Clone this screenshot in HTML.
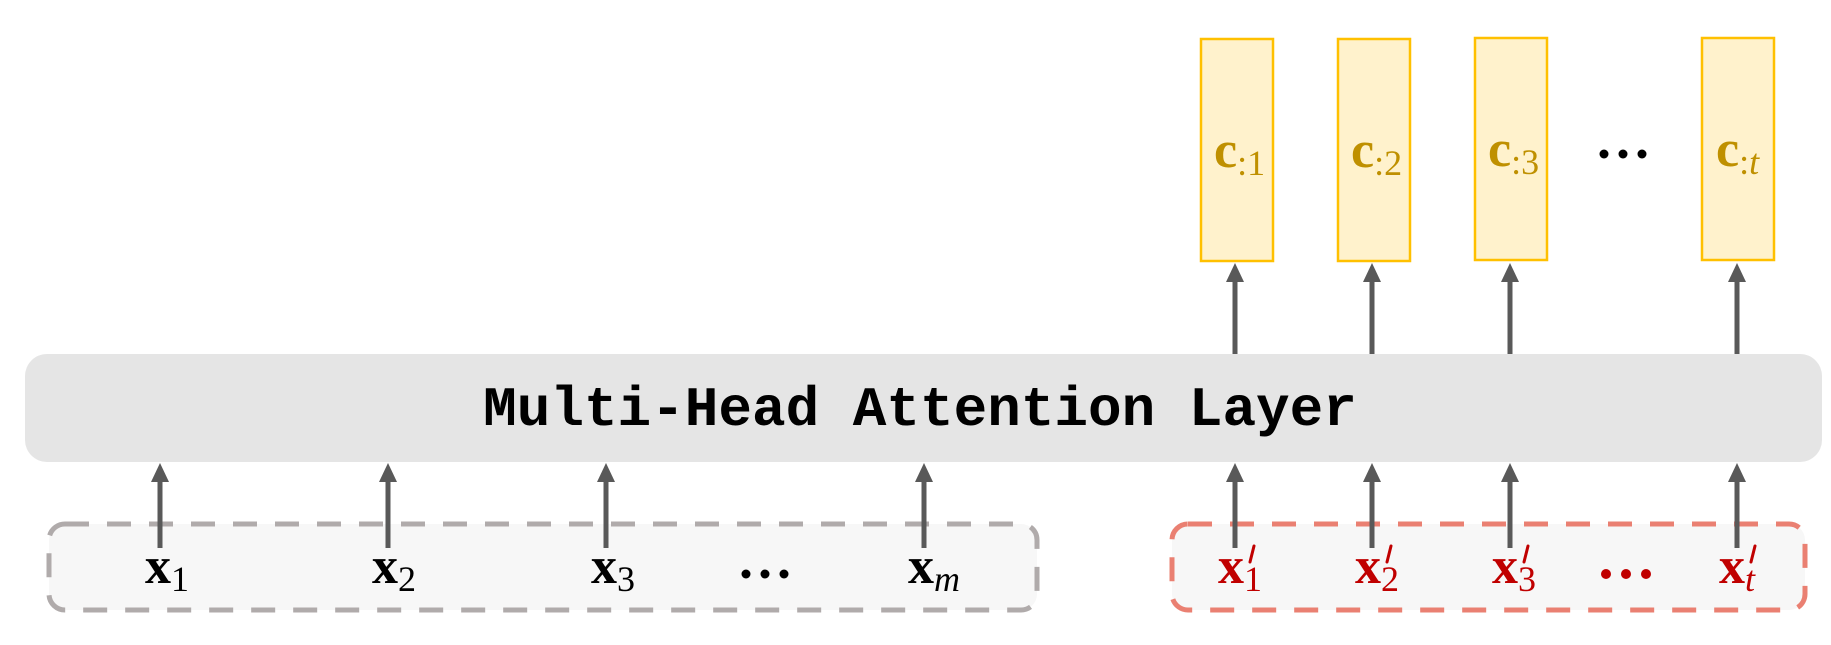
<!DOCTYPE html>
<html><head><meta charset="utf-8"><style>
html,body{margin:0;padding:0;background:#fff;}
svg{display:block;}
.c{font-family:"Liberation Serif",serif;fill:#bf9000;}
.x{font-family:"Liberation Serif",serif;fill:#000;}
.r{font-family:"Liberation Serif",serif;fill:#c00000;}
</style></head><body>
<svg width="1831" height="645" viewBox="0 0 1831 645" xmlns="http://www.w3.org/2000/svg">
<g fill="#fff2cc" stroke="#ffc000" stroke-width="2.5">
<rect x="1201" y="39" width="72" height="222"/>
<rect x="1338" y="39" width="72" height="222"/>
<rect x="1475" y="38" width="72" height="222"/>
<rect x="1702" y="38" width="72" height="222"/>
</g>
<g font-size="52">
<text class="c" x="1214" y="167"><tspan font-weight="bold">c</tspan><tspan font-size="36" dy="8">:1</tspan></text>
<text class="c" x="1351" y="167"><tspan font-weight="bold">c</tspan><tspan font-size="36" dy="8">:2</tspan></text>
<text class="c" x="1488" y="166"><tspan font-weight="bold">c</tspan><tspan font-size="36" dy="8">:3</tspan></text>
<text class="c" x="1716" y="166"><tspan font-weight="bold">c</tspan><tspan font-size="36" dy="8">:<tspan font-style="italic">t</tspan></tspan></text>
</g>
<g fill="#000"><circle cx="1604" cy="154" r="4.5"/><circle cx="1623" cy="154" r="4.5"/><circle cx="1642" cy="154" r="4.5"/></g>
<rect x="25" y="354" width="1797" height="108" rx="22" fill="#e5e5e5"/>
<text x="920" y="425" text-anchor="middle" font-family="'Liberation Mono',monospace" font-weight="bold" font-size="56" fill="#000">Multi-Head Attention Layer</text>
<rect x="49" y="524" width="988" height="86" rx="16" fill="#f7f7f7" stroke="#b0abab" stroke-width="5" stroke-dasharray="24,18"/>
<rect x="1172" y="524" width="633" height="86" rx="16" fill="#f7f7f7" stroke="#ea8072" stroke-width="5" stroke-dasharray="24,18"/>
<g stroke="#595959" stroke-width="5">
<line x1="1235" y1="354" x2="1235" y2="280"/>
<line x1="1372" y1="354" x2="1372" y2="280"/>
<line x1="1510" y1="354" x2="1510" y2="280"/>
<line x1="1737" y1="354" x2="1737" y2="280"/>
<line x1="160" y1="548" x2="160" y2="480"/>
<line x1="388" y1="548" x2="388" y2="480"/>
<line x1="606" y1="548" x2="606" y2="480"/>
<line x1="924" y1="548" x2="924" y2="480"/>
<line x1="1235" y1="548" x2="1235" y2="480"/>
<line x1="1372" y1="548" x2="1372" y2="480"/>
<line x1="1510" y1="548" x2="1510" y2="480"/>
<line x1="1737" y1="548" x2="1737" y2="480"/>
</g>
<g fill="#595959">
<path d="M1226,282 L1235,263 L1244,282 Z"/>
<path d="M1363,282 L1372,263 L1381,282 Z"/>
<path d="M1501,282 L1510,263 L1519,282 Z"/>
<path d="M1728,282 L1737,263 L1746,282 Z"/>
<path d="M151,482 L160,463 L169,482 Z"/>
<path d="M379,482 L388,463 L397,482 Z"/>
<path d="M597,482 L606,463 L615,482 Z"/>
<path d="M915,482 L924,463 L933,482 Z"/>
<path d="M1226,482 L1235,463 L1244,482 Z"/>
<path d="M1363,482 L1372,463 L1381,482 Z"/>
<path d="M1501,482 L1510,463 L1519,482 Z"/>
<path d="M1728,482 L1737,463 L1746,482 Z"/>
</g>
<g font-size="52">
<text class="x" x="145" y="583"><tspan font-weight="bold">x</tspan><tspan font-size="36" dy="8">1</tspan></text>
<text class="x" x="372" y="583"><tspan font-weight="bold">x</tspan><tspan font-size="36" dy="8">2</tspan></text>
<text class="x" x="591" y="583"><tspan font-weight="bold">x</tspan><tspan font-size="36" dy="8">3</tspan></text>
<text class="x" x="908" y="583"><tspan font-weight="bold">x</tspan><tspan font-size="36" dy="8" font-style="italic">m</tspan></text>
<text class="r" x="1218" y="583"><tspan font-weight="bold">x</tspan><tspan font-size="36" dy="8">1</tspan></text>
<text class="r" x="1355" y="583"><tspan font-weight="bold">x</tspan><tspan font-size="36" dy="8">2</tspan></text>
<text class="r" x="1492" y="583"><tspan font-weight="bold">x</tspan><tspan font-size="36" dy="8">3</tspan></text>
<text class="r" x="1719" y="583"><tspan font-weight="bold">x</tspan><tspan font-size="36" dy="8" font-style="italic">t</tspan></text>
</g>
<g stroke="#c00000" stroke-width="3" stroke-linecap="round">
<line x1="1254" y1="546" x2="1250" y2="562"/>
<line x1="1391" y1="546" x2="1387" y2="562"/>
<line x1="1528" y1="546" x2="1524" y2="562"/>
<line x1="1755" y1="546" x2="1751" y2="562"/>
</g>
<g fill="#000"><circle cx="746" cy="574" r="4.5"/><circle cx="765" cy="574" r="4.5"/><circle cx="784" cy="574" r="4.5"/></g>
<g fill="#c00000"><circle cx="1606" cy="574" r="5"/><circle cx="1626" cy="574" r="5"/><circle cx="1646" cy="574" r="5"/></g>
</svg>
</body></html>
